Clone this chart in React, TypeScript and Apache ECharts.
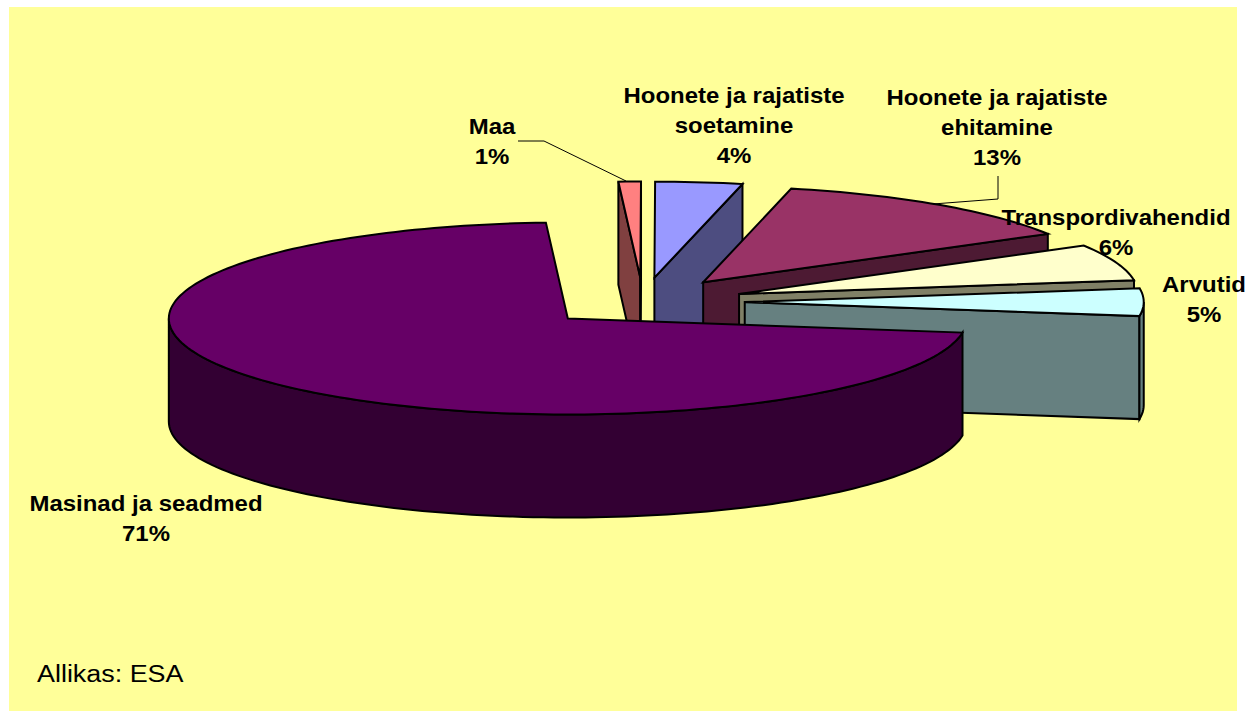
import React, { useEffect, useRef } from "react";
import * as echarts from "echarts";

const categories = [
  "Maa",
  "Hoonete ja rajatiste\nsoetamine",
  "Hoonete ja rajatiste\nehitamine",
  "Transpordivahendid",
  "Arvutid",
  "Masinad ja seadmed",
];
const values = [0.9, 3.5, 13.0, 6.1, 4.6, 71.49];
const percentLabels = ["1%", "4%", "13%", "6%", "5%", "71%"];
const topColors = ["#ff8080", "#9999ff", "#993366", "#ffffcc", "#ccffff", "#660066"];
const wallColors = ["#804040", "#4d4d80", "#4d1a33", "#808066", "#668080", "#330033"];
const labelCentres = [
  [492, 126],
  [734, 95],
  [997, 97],
  [1116, 217],
  [1204, 284],
  [146, 503],
];
const sourceText = "Allikas: ESA";

const CX = 643;
const CY = 302;
const RX = 399;
const RY = 96;
const DEPTH = 103;
const EXPLODE = 0.255;
const START_DEG = 266.85;
const FONT = "'Liberation Sans', Arial, sans-serif";

const total = values.reduce((a, b) => a + b, 0);
const rad = (d: number) => (d * Math.PI) / 180;

function sliceAngles(i: number) {
  let before = 0;
  for (let k = 0; k < i; k++) before += values[k];
  const a0 = START_DEG + (before / total) * 360;
  const a1 = a0 + (values[i] / total) * 360;
  return [a0, a1];
}

function renderSlice(params: any, api: any) {
  const i = api.value(1) as number;
  const [a0, a1] = sliceAngles(i);
  const mid = rad((a0 + a1) / 2);
  const ox = CX + EXPLODE * RX * Math.cos(mid);
  const oy = CY + EXPLODE * RY * Math.sin(mid);
  const pt = (d: number, dz = 0) => [ox + RX * Math.cos(rad(d)), oy + RY * Math.sin(rad(d)) + dz];
  const arc = (from: number, to: number, dz = 0) => {
    const n = Math.max(2, Math.ceil(Math.abs(to - from) / 1.5));
    const out: number[][] = [];
    for (let k = 0; k <= n; k++) out.push(pt(from + ((to - from) * k) / n, dz));
    return out;
  };
  const style = (fill: string) => ({ fill, stroke: "#000", lineWidth: 2, lineJoin: "miter" });
  const children: any[] = [];
  const wall = (points: number[][]) =>
    children.push({ type: "polygon", shape: { points }, style: style(wallColors[i]) });

  const cutWall = (d: number) => {
    const p = pt(d);
    const q = pt(d, DEPTH);
    wall([[ox, oy], p, q, [ox, oy + DEPTH]]);
  };
  if (Math.cos(rad(a0)) < -1e-6) cutWall(a0);
  if (Math.cos(rad(a1)) > 1e-6) cutWall(a1);

  // outer rim: the parts of the arc that face the viewer (0..180 deg, modulo 360)
  for (let turn = 0; turn <= 720; turn += 360) {
    const from = Math.max(a0, turn);
    const to = Math.min(a1, turn + 180);
    if (to > from) wall([...arc(from, to), ...arc(to, from, DEPTH)]);
  }

  children.push({
    type: "polygon",
    shape: { points: [[ox, oy], ...arc(a0, a1)] },
    style: style(topColors[i]),
  });
  return { type: "group", children };
}

const labelGraphics = categories.map((name, i) => ({
  type: "text",
  z: 20,
  x: labelCentres[i][0],
  y: labelCentres[i][1] - 15,
  scaleX: 1.09,
  style: {
    text: `${name}\n${percentLabels[i]}`,
    fill: "#000",
    font: `bold 22px ${FONT}`,
    lineHeight: 30,
    align: "center",
    verticalAlign: "top",
  },
}));

export default function App() {
  const ref = useRef<HTMLDivElement>(null);
  useEffect(() => {
    const chart = echarts.init(ref.current!, undefined, { renderer: "svg" });
    chart.setOption({
      animation: false,
      backgroundColor: "#ffffff",
      series: [
        {
          type: "custom",
          coordinateSystem: "none",
          renderItem: renderSlice,
          data: values.map((v, i) => [v, i]),
          silent: true,
        },
      ],
      graphic: [
        {
          type: "rect",
          z: -10,
          shape: { x: 9, y: 7, width: 1228, height: 704 },
          style: { fill: "#ffff99" },
        },
        {
          type: "polyline",
          z: 15,
          shape: { points: [[518, 141], [544, 141], [626, 181]] },
          style: { stroke: "#000", lineWidth: 1, fill: "none" },
        },
        {
          type: "polyline",
          z: 15,
          shape: { points: [[998, 176], [998, 199], [933, 204]] },
          style: { stroke: "#000", lineWidth: 1, fill: "none" },
        },
        ...labelGraphics,
        {
          type: "text",
          z: 20,
          x: 37,
          y: 662,
          scaleX: 1.17,
          style: {
            text: sourceText,
            fill: "#000",
            font: `23px ${FONT}`,
            align: "left",
            verticalAlign: "top",
          },
        },
      ],
    });
    return () => chart.dispose();
  }, []);
  return (
    <div
      ref={ref}
      style={{ position: "absolute", left: 0, top: 0, width: 1252, height: 711 }}
    />
  );
}
